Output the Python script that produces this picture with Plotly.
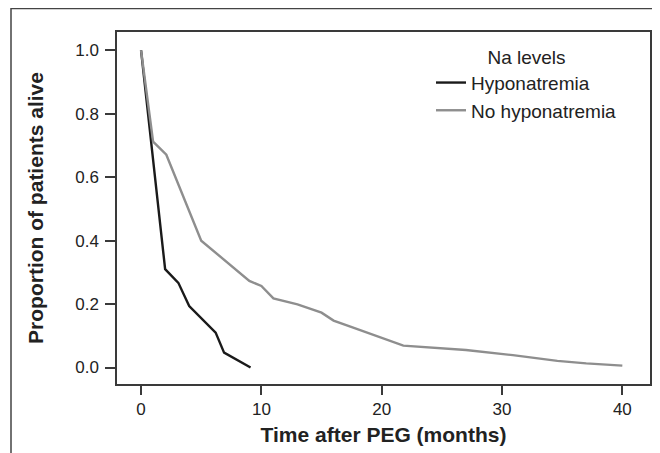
import plotly.graph_objects as go

# Data
hypo_t = [0, 2.0, 3.1, 4.0, 6.2, 6.9, 9.1]
hypo_p = [1.0, 0.31, 0.267, 0.194, 0.11, 0.047, 0.0]

nohypo_t = [0, 1.0, 2.1, 5.0, 9.0, 10.0, 11.0, 13.0, 15.0, 16.0, 17.4, 19.5, 21.8, 27.0, 30.9, 34.6, 37.0, 40.0]
nohypo_p = [1.0, 0.712, 0.671, 0.40, 0.273, 0.257, 0.218, 0.199, 0.173, 0.148, 0.129, 0.100, 0.069, 0.055, 0.039, 0.021, 0.013, 0.006]

x_ticks = [0, 10, 20, 30, 40]
y_ticks = [0.0, 0.2, 0.4, 0.6, 0.8, 1.0]
y_tick_labels = ["0.0", "0.2", "0.4", "0.6", "0.8", "1.0"]

FONT = "Liberation Sans, Arial, sans-serif"
AX = "#3a3a3a"
TXT = "#222222"

fig = go.Figure()
fig.add_trace(go.Scatter(x=hypo_t, y=hypo_p, mode="lines", name="Hyponatremia",
                         line=dict(color="#1a1a1a", width=2.4)))
fig.add_trace(go.Scatter(x=nohypo_t, y=nohypo_p, mode="lines", name="No hyponatremia",
                         line=dict(color="#8e8e8e", width=2.4)))

# page body has an 8px margin: figure pixel = viewport pixel - 8
OFF = 8
W, H = 660 - OFF, 453 - OFF
L, R, T, B = 117 - OFF, 10, 32 - OFF, 69
pw, ph = W - L - R, H - T - B

def px(xv):  # viewport x -> paper
    return (xv - OFF - L) / pw

def py(yv):  # viewport y -> paper
    return (H - B - (yv - OFF)) / ph

fig.add_shape(type="path", xref="paper", yref="paper",
              path=f"M {px(11)},{py(470)} L {px(11)},{py(8.6)} L {px(680)},{py(8.6)}",
              line=dict(color="#444444", width=1.5))

fig.update_layout(
    width=W, height=H,
    margin=dict(l=L, r=R, t=T, b=B, autoexpand=False),
    paper_bgcolor="white", plot_bgcolor="white",
    font=dict(family=FONT, color=TXT),
    showlegend=True,
    legend=dict(
        x=px(431), y=py(39), xanchor="left", yanchor="top",
        bgcolor="rgba(0,0,0,0)",
        font=dict(size=19, family=FONT, color=TXT),
        title=dict(text="Na levels", side="top center", font=dict(size=19, family=FONT, color=TXT)),
        tracegroupgap=0,
    ),
    xaxis=dict(
        range=[-2.0, 42.3], tickvals=x_ticks, ticks="outside", ticklen=9, tickwidth=1.5,
        tickcolor=AX, showline=True, linecolor=AX, linewidth=1.5, mirror=True,
        showgrid=False, zeroline=False, automargin=False,
        tickfont=dict(size=17, family=FONT, color=TXT),
        title=dict(text="<b>Time after PEG (months)</b>", font=dict(size=21, family=FONT, color=TXT), standoff=9),
    ),
    yaxis=dict(
        range=[-0.052, 1.058], tickvals=y_ticks, ticktext=y_tick_labels, ticks="outside", ticklen=10, tickwidth=1.5,
        tickcolor=AX, showline=True, linecolor=AX, linewidth=1.5, mirror=True,
        showgrid=False, zeroline=False, automargin=False, ticklabelstandoff=3,
        tickfont=dict(size=17, family=FONT, color=TXT),
        title=dict(text="<b>Proportion of patients alive</b>", font=dict(size=21, family=FONT, color=TXT), standoff=26),
    ),
)

fig.write_html("out.html")
